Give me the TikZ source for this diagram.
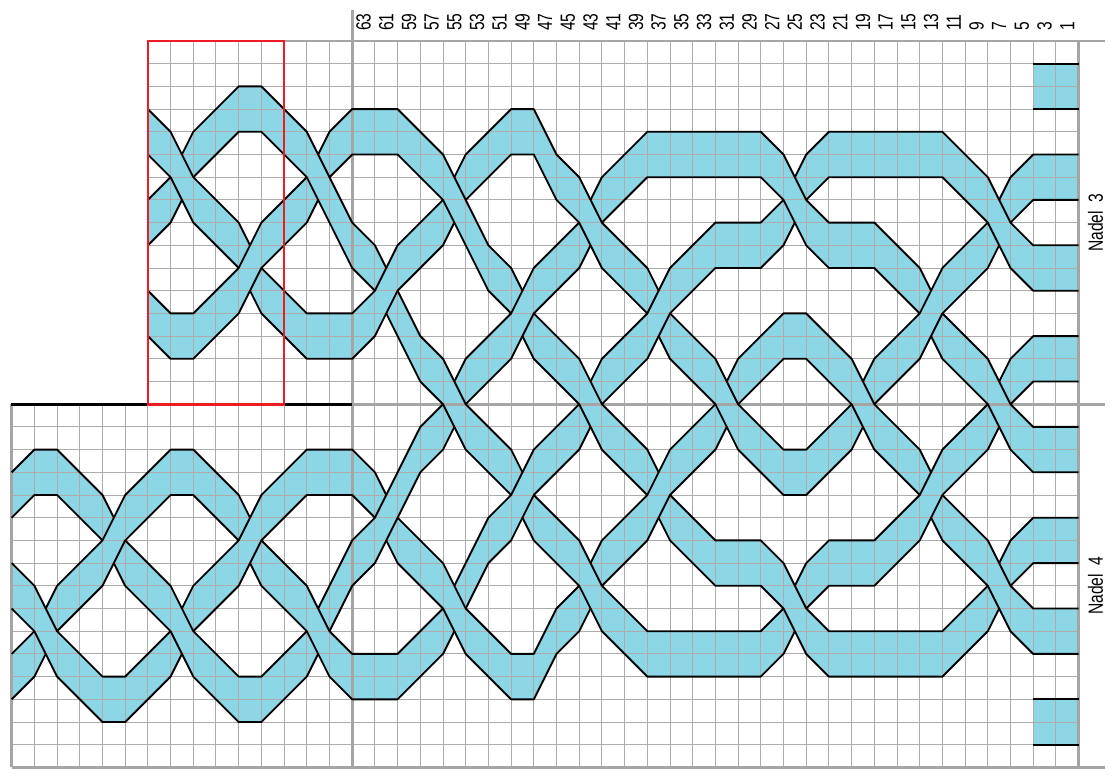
\documentclass[tikz,border=0pt]{standalone}
\usepackage{fontspec}
\setmainfont{Liberation Sans}
\newfontfamily\chartfont[FakeStretch=0.76]{Liberation Sans}
\definecolor{ribbonblue}{RGB}{141,214,229}
\definecolor{gridgrey}{RGB}{172,172,172}
\definecolor{frameggrey}{RGB}{165,165,165}
\definecolor{framered}{RGB}{237,28,36}
\tikzset{
  ribbonfill/.style={fill=ribbonblue},
  gridline/.style={draw=gridgrey,line width=0.75pt},
  frameline/.style={draw=frameggrey,line width=2pt},
  rim/.style={draw=black,line width=1.4pt,line join=round},
  rimL/.style={rim,shift={(0,2)}},
  needle/.style={rotate=90,inner sep=0pt,font=\chartfont\fontsize{15.4pt}{17pt}\selectfont,text=black}
}
\newcommand\ribbon[1]{%
  \gdef\ribU{}\gdef\ribL{}%
  \foreach \p/\q in {#1}{%
    \pgfmathsetmacro\qq{\q+2}%
    \xdef\ribU{\ribU (\p,\q) -- }%
    \xdef\ribL{(\p,\qq) -- \ribL}%
  }%
  \edef\ribDo{\noexpand\fill[ribbonfill] \ribU \ribL cycle;}\ribDo
}
\begin{document}
\begin{tikzpicture}[x=17.025pt,y=-17.025pt]
\useasboundingbox (-0.515,-1.806) rectangle (48.471,32.335);
% ribbon fills
\ribbon{6/3,7/4,8/6,10/8,11/10,13/12,15/12,16/11,17/9,19/7,20/5,22/3,23/3,24/5,25/6,26/8,28/10,29/12,31/14,32/16,34/18,35/18,37/16,38/14,40/12,41/10,43/8,44/6,45/5,47/5}
\ribbon{6/7,7/6,8/4,10/2,11/2,13/4,15/8,16/9,18/13,19/14,20/16,22/18,23/20,25/22,26/24,28/26,33/26,34/25,35/23,36/22,38/22,40/20,41/18,43/16,44/14,45/13,47/13}
\ribbon{6/11,7/12,8/12,10/10,11/8,13/6,14/4,15/3,17/3,19/5,21/9,22/10,23/12,25/14,26/16,28/18,29/20,31/22,33/22,34/23,35/25,36/26,41/26,43/24,44/22,45/21,47/21}
\ribbon{0/19,1/18,2/18,4/20,5/22,7/24,8/26,10/28,11/28,13/26,14/24,15/22,16/21,17/19,18/17,19/16,20/14,22/12,23/10,25/8,26/6,28/4,33/4,34/5,35/7,36/8,38/8,40/10,41/12,43/14,44/16,45/17,47/17}
\ribbon{0/27,1/26,2/24,4/22,5/20,7/18,8/18,10/20,11/22,13/24,14/26,15/27,17/27,19/25,21/21,22/20,23/18,25/16,26/14,28/12,29/10,31/8,33/8,34/7,35/5,36/4,41/4,43/6,44/8,45/9,47/9}
\ribbon{0/23,1/24,2/26,4/28,5/28,7/26,8/24,10/22,11/20,13/18,15/18,16/19,17/21,19/23,20/25,22/27,23/27,24/25,25/24,26/22,28/20,29/18,31/16,32/14,34/12,35/12,37/14,38/16,40/18,41/20,43/22,44/24,45/25,47/25}
\ribbon{45/1,47/1}
\ribbon{45/29,47/29}
% grid
\foreach \j in {1,...,15} \draw[gridline] (6,\j) -- (47,\j);
\foreach \j in {17,...,31} \draw[gridline] (0,\j) -- (47,\j);
\foreach \i in {1,...,5} \draw[gridline] (\i,16) -- (\i,32);
\foreach \i in {6,...,14} \draw[gridline] (\i,0) -- (\i,32);
\foreach \i in {16,...,46} \draw[gridline] (\i,0) -- (\i,32);
% frame
\draw[frameline] (6,0) -- (48.16,0);
\draw[frameline] (15,16) -- (48.16,16);
\draw[frameline] (0,32) -- (48.16,32);
\draw[frameline] (0,16) -- (0,32);
\draw[frameline] (47,0) -- (47,32);
\draw[frameline] (15,-1.37) -- (15,32);
\draw[draw=black,line width=2pt] (-0.03,16) -- (15,16);
% strand 1
\draw[rim] (6,3)--(7,4)--(8,6)--(10,8)--(10.5,9);
\draw[rim] (11,10)--(13,12)--(15,12)--(16,11)--(17,9)--(19,7);
\draw[rim] (19.5,6)--(20,5)--(22,3)--(23,3)--(24,5)--(25,6)--(26,8)--(28,10)--(28.5,11);
\draw[rim] (29,12)--(31,14)--(32,16)--(34,18)--(35,18)--(37,16);
\draw[rim] (37.5,15)--(38,14)--(40,12)--(41,10)--(43,8);
\draw[rim] (43.5,7)--(44,6)--(45,5)--(47,5);
\draw[rimL] (6,3)--(7,4)--(8,6)--(10,8);
\draw[rimL] (10.5,9)--(11,10)--(13,12)--(15,12)--(16,11)--(17,9)--(19,7)--(19.5,6);
\draw[rimL] (20,5)--(22,3)--(23,3)--(24,5)--(25,6)--(26,8)--(28,10);
\draw[rimL] (28.5,11)--(29,12)--(31,14)--(32,16)--(34,18)--(35,18)--(37,16)--(37.5,15);
\draw[rimL] (38,14)--(40,12)--(41,10)--(43,8)--(43.5,7);
\draw[rimL] (44,6)--(45,5)--(47,5);
% strand 2
\draw[rim] (6,7)--(7,6);
\draw[rim] (7.5,5)--(8,4)--(10,2)--(11,2)--(13,4)--(15,8)--(16,9)--(16.5,10);
\draw[rim] (17,11)--(18,13)--(19,14)--(20,16)--(22,18)--(22.5,19);
\draw[rim] (23,20)--(25,22)--(26,24)--(28,26)--(33,26)--(34,25);
\draw[rim] (34.5,24)--(35,23)--(36,22)--(38,22)--(40,20)--(41,18)--(43,16);
\draw[rim] (43.5,15)--(44,14)--(45,13)--(47,13);
\draw[rimL] (6,7)--(7,6)--(7.5,5);
\draw[rimL] (8,4)--(10,2)--(11,2)--(13,4)--(15,8)--(16,9);
\draw[rimL] (16.5,10)--(17,11)--(18,13)--(19,14)--(20,16)--(22,18);
\draw[rimL] (22.5,19)--(23,20)--(25,22)--(26,24)--(28,26)--(33,26)--(34,25)--(34.5,24);
\draw[rimL] (35,23)--(36,22)--(38,22)--(40,20)--(41,18)--(43,16)--(43.5,15);
\draw[rimL] (44,14)--(45,13)--(47,13);
% strand 3
\draw[rim] (6,11)--(7,12)--(8,12)--(10,10)--(11,8)--(13,6);
\draw[rim] (13.5,5)--(14,4)--(15,3)--(17,3)--(19,5)--(21,9)--(22,10)--(22.5,11);
\draw[rim] (23,12)--(25,14)--(26,16)--(28,18)--(28.5,19);
\draw[rim] (29,20)--(31,22)--(33,22)--(34,23)--(35,25)--(36,26)--(41,26)--(43,24);
\draw[rim] (43.5,23)--(44,22)--(45,21)--(47,21);
\draw[rimL] (6,11)--(7,12)--(8,12)--(10,10)--(11,8)--(13,6)--(13.5,5);
\draw[rimL] (14,4)--(15,3)--(17,3)--(19,5)--(21,9)--(22,10);
\draw[rimL] (22.5,11)--(23,12)--(25,14)--(26,16)--(28,18);
\draw[rimL] (28.5,19)--(29,20)--(31,22)--(33,22)--(34,23)--(35,25)--(36,26)--(41,26)--(43,24)--(43.5,23);
\draw[rimL] (44,22)--(45,21)--(47,21);
% strand 4
\draw[rim] (0,19)--(1,18)--(2,18)--(4,20)--(4.5,21);
\draw[rim] (5,22)--(7,24)--(8,26)--(10,28)--(11,28)--(13,26);
\draw[rim] (13.5,25)--(14,24)--(15,22)--(16,21)--(17,19)--(18,17)--(19,16);
\draw[rim] (19.5,15)--(20,14)--(22,12)--(23,10)--(25,8);
\draw[rim] (25.5,7)--(26,6)--(28,4)--(33,4)--(34,5)--(35,7)--(36,8)--(38,8)--(40,10)--(40.5,11);
\draw[rim] (41,12)--(43,14)--(44,16)--(45,17)--(47,17);
\draw[rimL] (0,19)--(1,18)--(2,18)--(4,20);
\draw[rimL] (4.5,21)--(5,22)--(7,24)--(8,26)--(10,28)--(11,28)--(13,26)--(13.5,25);
\draw[rimL] (14,24)--(15,22)--(16,21)--(17,19)--(18,17)--(19,16)--(19.5,15);
\draw[rimL] (20,14)--(22,12)--(23,10)--(25,8)--(25.5,7);
\draw[rimL] (26,6)--(28,4)--(33,4)--(34,5)--(35,7)--(36,8)--(38,8)--(40,10);
\draw[rimL] (40.5,11)--(41,12)--(43,14)--(44,16)--(45,17)--(47,17);
% strand 5
\draw[rim] (0,27)--(1,26);
\draw[rim] (1.5,25)--(2,24)--(4,22)--(5,20)--(7,18)--(8,18)--(10,20)--(10.5,21);
\draw[rim] (11,22)--(13,24)--(14,26)--(15,27)--(17,27)--(19,25);
\draw[rim] (19.5,24)--(21,21)--(22,20)--(23,18)--(25,16);
\draw[rim] (25.5,15)--(26,14)--(28,12)--(29,10)--(31,8)--(33,8)--(34,7);
\draw[rim] (34.5,6)--(35,5)--(36,4)--(41,4)--(43,6)--(44,8)--(45,9)--(47,9);
\draw[rimL] (0,27)--(1,26)--(1.5,25);
\draw[rimL] (2,24)--(4,22)--(5,20)--(7,18)--(8,18)--(10,20);
\draw[rimL] (10.5,21)--(11,22)--(13,24)--(14,26)--(15,27)--(17,27)--(19,25)--(19.5,24);
\draw[rimL] (20,23)--(21,21)--(22,20)--(23,18)--(25,16)--(25.5,15);
\draw[rimL] (26,14)--(28,12)--(29,10)--(31,8)--(33,8)--(34,7)--(34.5,6);
\draw[rimL] (35,5)--(36,4)--(41,4)--(43,6)--(44,8)--(45,9)--(47,9);
% strand 6
\draw[rim] (0,23)--(1,24)--(2,26)--(4,28)--(5,28)--(7,26);
\draw[rim] (7.5,25)--(8,24)--(10,22)--(11,20)--(13,18)--(15,18)--(16,19)--(16.5,20);
\draw[rim] (17,21)--(19,23)--(20,25)--(22,27)--(23,27)--(24,25)--(25,24);
\draw[rim] (25.5,23)--(26,22)--(28,20)--(29,18)--(31,16);
\draw[rim] (31.5,15)--(32,14)--(34,12)--(35,12)--(37,14)--(38,16)--(40,18)--(40.5,19);
\draw[rim] (41,20)--(43,22)--(44,24)--(45,25)--(47,25);
\draw[rimL] (0,23)--(1,24)--(2,26)--(4,28)--(5,28)--(7,26)--(7.5,25);
\draw[rimL] (8,24)--(10,22)--(11,20)--(13,18)--(15,18)--(16,19);
\draw[rimL] (16.5,20)--(17,21)--(19,23)--(20,25)--(22,27)--(23,27)--(24,25)--(25,24)--(25.5,23);
\draw[rimL] (26,22)--(28,20)--(29,18)--(31,16)--(31.5,15);
\draw[rimL] (32,14)--(34,12)--(35,12)--(37,14)--(38,16)--(40,18);
\draw[rimL] (40.5,19)--(41,20)--(43,22)--(44,24)--(45,25)--(47,25);
% separate blocks
\draw[rim] (45,1)--(47,1);
\draw[rimL] (45,1)--(47,1);
\draw[rim] (45,29)--(47,29);
\draw[rimL] (45,29)--(47,29);
% red frame
\draw[draw=framered,line width=2pt] (6,0) rectangle (12,16);
% labels
\foreach \n in {63,61,...,1}{
  \pgfmathsetmacro\col{15.5+(63-\n)/2}
  \node[needle,anchor=west] (c\n) at (\col,-0.44) {\n};
}
\node[needle] (nadel3) at (47.75,8) {Nadel\ \ 3};
\node[needle] (nadel4) at (47.75,24) {Nadel\ \ 4};
\end{tikzpicture}
\end{document}
